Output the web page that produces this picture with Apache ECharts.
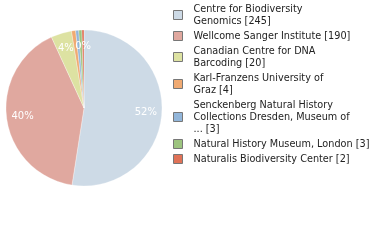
<!DOCTYPE html>
<html><head><meta charset="utf-8">
<script src="https://cdn.jsdelivr.net/npm/echarts@6/dist/echarts.min.js"></script>
<style>html,body{margin:0;padding:0;background:#fff}#c{width:380px;height:240px}</style>
</head><body><div id="c"></div>
<script>
const categories = [
  "Centre for Biodiversity\nGenomics",
  "Wellcome Sanger Institute",
  "Canadian Centre for DNA\nBarcoding",
  "Karl-Franzens University of\nGraz",
  "Senckenberg Natural History\nCollections Dresden, Museum of\n...",
  "Natural History Museum, London",
  "Naturalis Biodiversity Center"
];
const values = [245, 190, 20, 4, 3, 3, 2];
const colors = ["#cddae6", "#e0a89f", "#dde2a2", "#f0aa72", "#92b6da", "#9dc47f", "#e07257"];

const total = values.reduce((a, b) => a + b, 0);
const data = categories.map((n, i) => ({ name: n, value: values[i], itemStyle: { color: colors[i] } }));

const chart = echarts.init(document.getElementById('c'), null, { renderer: 'canvas' });
chart.setOption({
  animation: false,
  legend: {
    orient: 'vertical',
    left: 173,
    top: 3,
    padding: 0,
    itemWidth: 9,
    itemHeight: 9,
    itemGap: 3,
    icon: 'rect',
    itemStyle: { borderColor: '#777', borderWidth: 1 },
    textStyle: { fontFamily: 'DejaVu Sans', fontSize: 9.7, color: '#222', lineHeight: 12, padding: [0, 0, 0, 6] },
    formatter: function (name) {
      const i = categories.indexOf(name);
      return name + ' [' + values[i] + ']';
    },
    data: categories
  },
  series: [
    {
      type: 'pie',
      center: [84, 108],
      radius: 78,
      startAngle: 90,
      clockwise: true,
      label: { show: false },
      labelLine: { show: false },
      itemStyle: { borderColor: '#fff', borderWidth: 0.3 },
      data: data
    },
    {
      type: 'pie',
      center: [84, 108],
      radius: [40, 78],
      startAngle: 90,
      clockwise: true,
      silent: true,
      legendHoverLink: false,
      itemStyle: { color: 'rgba(0,0,0,0)' },
      label: {
        show: true,
        position: 'inside',
        color: '#fff',
        fontFamily: 'DejaVu Sans',
        fontSize: 10,
        formatter: function (p) { return Math.floor(p.value / total * 100) + '%'; }
      },
      labelLine: { show: false },
      data: categories.map((n, i) => ({ name: n + '\u200b', value: values[i] }))
    }
  ]
});
</script>
</body></html>
